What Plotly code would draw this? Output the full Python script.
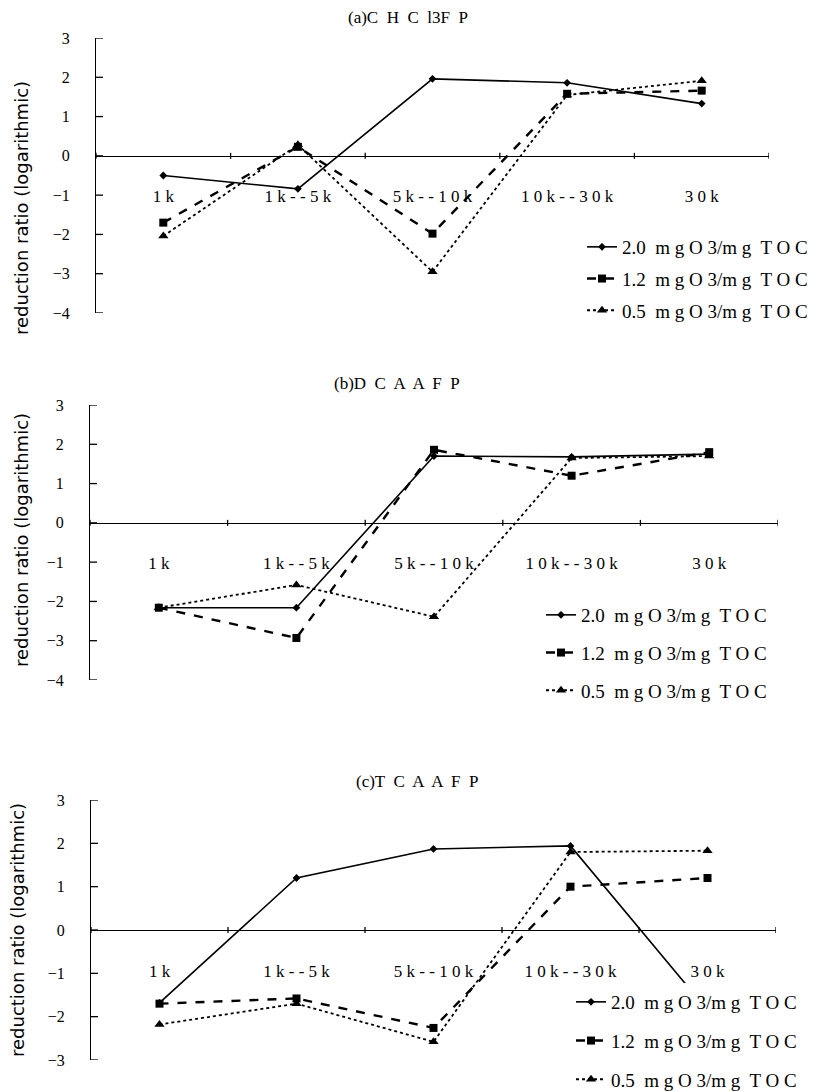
import plotly.graph_objects as go

W, H = 822, 1092
OFF = 8  # page body margin offset in the rendered screenshot

categories = ["1k", "1k--5k", "5k--10k", "10k--30k", "30k"]
tick_labels = [" ".join(c) for c in categories]
series_names = ["2.0  m g O 3/m g  T O C", "1.2  m g O 3/m g  T O C", "0.5  m g O 3/m g  T O C"]

# (a) CHCl3FP
a_20 = [-0.50, -0.84, 1.96, 1.86, 1.33]
a_12 = [-1.70, 0.23, -1.98, 1.58, 1.66]
a_05 = [-2.04, 0.28, -2.95, 1.55, 1.91]
# (b) DCAAFP
b_20 = [-2.16, -2.16, 1.70, 1.68, 1.75]
b_12 = [-2.16, -2.93, 1.86, 1.20, 1.80]
b_05 = [-2.16, -1.58, -2.39, 1.65, 1.70]
# (c) TCAAFP
c_20 = [-1.68, 1.20, 1.87, 1.94, -1.85]
c_12 = [-1.70, -1.58, -2.26, 1.00, 1.20]
c_05 = [-2.18, -1.70, -2.58, 1.80, 1.83]

panel_titles = ["(a)C  H  C  l3F  P", "(b)D  C  A  A  F  P", "(c)T  C  A  A  F  P"]
y_ranges = [(-4, 3), (-4, 3), (-3, 3)]

# layout geometry in reference pixels: (left, right, top(ymax), bottom(ymin))
boxes = [(96, 769, 38, 313), (90, 778, 405, 680), (91, 776, 800, 1060)]
legend_pos = [(582, 228, "top", 4), (541, 596, "top", 10), (571, 1099, "bottom", 11)]
title_pos = [(408, 18), (397, 383), (417, 782)]
ytitle_pos = [(21, 208), (21, 540), (17, 930)]

styles = [
    dict(dash="solid", width=1.6, symbol="diamond", size=6),
    dict(dash="dash", width=2.4, symbol="square", size=8),
    dict(dash="dot", width=1.8, symbol="triangle-up", size=9),
]

data = [[a_20, a_12, a_05], [b_20, b_12, b_05], [c_20, c_12, c_05]]


def px_x(x):
    return (x - OFF) / W


def px_y(y):
    return (H - (y - OFF)) / H


serif = "Liberation Serif, Times New Roman, serif"
fig = go.Figure()
annotations = []
shapes = []
layout = {}
for p in range(3):
    sfx = "" if p == 0 else str(p + 1)
    xr, yr = "x" + sfx, "y" + sfx
    leg = "legend" + sfx
    for s in range(3):
        st = styles[s]
        fig.add_trace(go.Scatter(
            x=categories, y=data[p][s], name=series_names[s],
            mode="lines+markers",
            line=dict(color="black", width=st["width"], dash=st["dash"]),
            marker=dict(color="black", symbol=st["symbol"], size=st["size"]),
            xaxis=xr, yaxis=yr, legend=leg,
            legendgroup=f"g{p}{s}", showlegend=True,
        ))
    l, r, t, b = boxes[p]
    ymin, ymax = y_ranges[p]
    ppu = (b - t) / (ymax - ymin)
    zero_px = t + ymax * ppu
    layout["xaxis" + sfx] = dict(
        domain=[px_x(l), px_x(r)], anchor="free", position=px_y(zero_px),
        type="category", categoryorder="array", categoryarray=categories,
        range=[-0.5, len(categories) - 0.5], tickmode="array", tickvals=categories,
        ticktext=tick_labels, ticks="",
        showline=True, linecolor="black", linewidth=1.2, showgrid=False, zeroline=False,
        ticklabelstandoff=25, tickfont=dict(family=serif, size=17, color="black"),
        fixedrange=True, automargin=False,
    )
    layout["yaxis" + sfx] = dict(
        domain=[px_y(b), px_y(t)], anchor=xr,
        range=[ymin, ymax], tickmode="linear", tick0=0, dtick=1, ticks="",
        showline=True, linecolor="black", linewidth=1.2, showgrid=False, zeroline=False,
        ticklabelstandoff=22, tickfont=dict(family=serif, size=16, color="black"),
        fixedrange=True, automargin=False,
    )
    # axis tick marks (category boundaries on x, integers on y)
    half = 3.0 / ppu
    for k in range(len(categories) + 1):
        shapes.append(dict(type="line", xref=xr, yref=yr, x0=k - 0.5, x1=k - 0.5,
                           y0=-half, y1=half, line=dict(color="black", width=1.3)))
    tick_frac = 7.0 / (r - l)
    for v in range(ymin, ymax + 1):
        shapes.append(dict(type="line", xref=xr + " domain", yref=yr, x0=0, x1=tick_frac,
                           y0=v, y1=v, line=dict(color="black", width=1.3)))
    lx, ly, yanc, gap = legend_pos[p]
    layout[leg] = dict(
        x=px_x(lx), y=px_y(ly), xanchor="left", yanchor=yanc,
        bgcolor="white", font=dict(family=serif, size=19, color="black"),
        tracegroupgap=gap, itemwidth=30, borderwidth=0,
    )
    tx, ty = title_pos[p]
    annotations.append(dict(
        text=panel_titles[p], x=px_x(tx), y=px_y(ty), xref="paper", yref="paper",
        showarrow=False, font=dict(family=serif, size=17, color="black"),
        xanchor="center", yanchor="middle",
    ))
    yx, yy = ytitle_pos[p]
    annotations.append(dict(
        text="reduction ratio (logarithmic)", x=px_x(yx), y=px_y(yy),
        xref="paper", yref="paper", showarrow=False, textangle=-90,
        font=dict(family="DejaVu Sans, Liberation Sans, sans-serif", size=18, color="black"),
        xanchor="center", yanchor="middle",
    ))

fig.update_layout(
    template="none",
    width=W, height=H, margin=dict(l=0, r=0, t=0, b=0, autoexpand=False),
    paper_bgcolor="white", plot_bgcolor="rgba(0,0,0,0)",
    annotations=annotations, shapes=shapes, **layout,
)
fig.write_html("out.html")
